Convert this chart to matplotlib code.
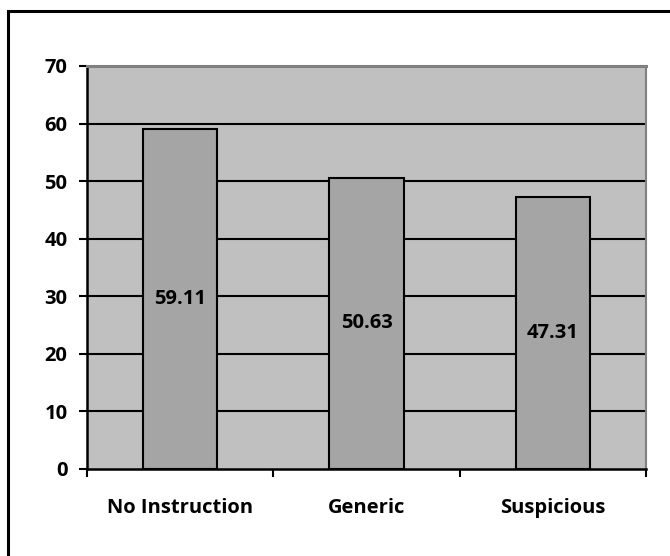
import matplotlib
matplotlib.use("Agg")
import matplotlib.pyplot as plt
from matplotlib.patches import Rectangle

categories = ["No Instruction", "Generic", "Suspicious"]
values = [59.11, 50.63, 47.31]
yticks = [0, 10, 20, 30, 40, 50, 60, 70]

plt.rcParams["font.family"] = ["Open Sans", "DejaVu Sans"]
plt.rcParams["font.weight"] = "bold"

W, H = 670, 556
fig = plt.figure(figsize=(W / 100, H / 100), dpi=100)
fig.patch.set_facecolor("white")

# outer chart border (runs past the right and bottom edges)
fig.add_artist(Rectangle((7.5 / W, -20 / H), 700 / W, (556 - 10.5 + 20) / H,
                         transform=fig.transFigure, fill=False,
                         edgecolor="black", linewidth=2.2))

left, right, top, bottom = 87, 646, 66, 469
ax = fig.add_axes([left / W, 1 - bottom / H, (right - left) / W, (bottom - top) / H])
ax.set_facecolor("#C0C0C0")

x = list(range(len(categories)))
ax.set_xlim(-0.5, len(categories) - 0.5)
ax.set_ylim(0, 70)

for v in yticks[1:-1]:
    ax.axhline(v, color="black", linewidth=1.5, zorder=1)

bars = ax.bar(x, values, width=0.4, color="#A5A5A5", edgecolor="black",
              linewidth=1.5, zorder=2)
for xi, v in zip(x, values):
    ax.text(xi, v / 2, f"{v:.2f}", ha="center", va="center",
            fontsize=14.5, fontweight="bold", zorder=3)

ax.set_yticks(yticks)
ax.set_yticklabels([str(t) for t in yticks], fontsize=14.5, fontweight="bold")
ax.set_xticks([i - 0.5 for i in range(len(categories) + 1)], minor=False)
ax.set_xticklabels([""] * (len(categories) + 1))
ax.set_xticks(x, minor=True)
ax.set_xticklabels(categories, minor=True, fontsize=14.5, fontweight="bold")
ax.tick_params(axis="x", which="minor", length=0, pad=21)
ax.tick_params(axis="x", which="major", length=6, width=1.5, direction="out")
ax.tick_params(axis="y", length=6, width=1.5, direction="out", pad=8)

ax.spines["left"].set_linewidth(1.8)
ax.spines["bottom"].set_linewidth(1.8)
ax.spines["top"].set_color("#808080")
ax.spines["right"].set_color("#808080")
ax.spines["top"].set_linewidth(2.2)
ax.spines["right"].set_linewidth(1.5)

fig.savefig("out.png", dpi=100)
